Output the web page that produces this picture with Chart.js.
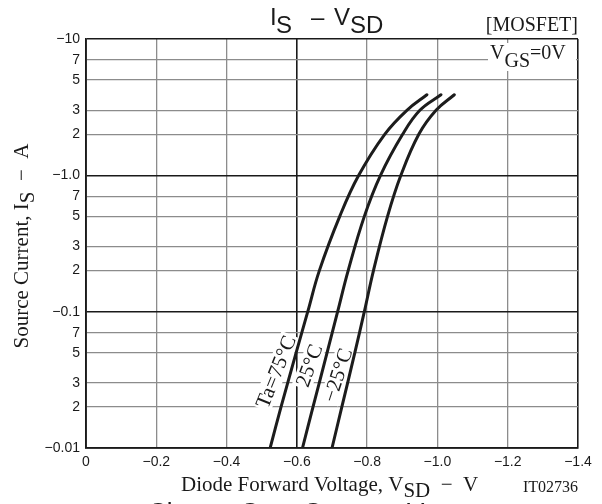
<!DOCTYPE html>
<html>
<head>
<meta charset="utf-8">
<script src="https://cdn.jsdelivr.net/npm/chart.js@4.4.1/dist/chart.umd.min.js"></script>
<style>
  html, body { margin: 0; padding: 0; background: #fff; }
  #wrap { position: relative; width: 602px; height: 504px; }
</style>
</head>
<body>
<div id="wrap"><canvas id="isVsdChart"></canvas></div>
<script>
// Source current magnitude in A (the sheet prints it as -0.01 ... -10)
var currentA = [0.01, 0.02, 0.05, 0.1, 0.2, 0.5, 1, 2, 3, 3.9];

// Diode forward voltage in V for each ambient temperature
var vsdTa75 = [-0.524, -0.555, -0.598, -0.631, -0.664, -0.722, -0.776, -0.850, -0.913, -0.970];
var vsdTa25 = [-0.616, -0.646, -0.686, -0.716, -0.746, -0.792, -0.838, -0.901, -0.950, -1.010];
var vsdTaM25 = [-0.700, -0.728, -0.765, -0.792, -0.818, -0.858, -0.896, -0.947, -0.996, -1.048];

// curve captions and where they sit (data units)
var curveLabels = ["Ta=75°C", "25°C", "−25°C"];
var labelAnchorV = [-0.543, -0.638, -0.719];
var labelAnchorI = [0.036, 0.040, 0.034];
var labelAngle = [-68, -70, -72];

var xTicks = [0, -0.2, -0.4, -0.6, -0.8, -1.0, -1.2, -1.4];
var xTickLabels = ["0", "−0.2", "−0.4", "−0.6", "−0.8", "−1.0", "−1.2", "−1.4"];
var xDarkTicks = [0, -0.6, -1.4];

var yTicks = [0.01, 0.02, 0.03, 0.05, 0.07, 0.1, 0.2, 0.3, 0.5, 0.7, 1, 2, 3, 5, 7, 10];
var yTickLabels = ["−0.01", "2", "3", "5", "7", "−0.1", "2", "3", "5", "7", "−1.0", "2", "3", "5", "7", "−10"];
var yDarkTicks = [0.01, 0.1, 1, 10];

var SANS = "'Liberation Sans', Arial, sans-serif";
var SERIF = "'Liberation Serif', 'Times New Roman', serif";

function toPoints(vs) {
  return vs.map(function (v, i) { return { x: v, y: currentA[i] }; });
}

// draw a run of text pieces, each with its own font and baseline shift
function drawRun(ctx, parts, x, y) {
  var cx = x;
  parts.forEach(function (p) {
    ctx.font = p.font;
    ctx.fillText(p.t, cx, y + (p.dy || 0));
    cx += ctx.measureText(p.t).width;
  });
  return cx;
}

function runWidth(ctx, parts) {
  var w = 0;
  parts.forEach(function (p) {
    ctx.font = p.font;
    w += ctx.measureText(p.t).width;
  });
  return w;
}

var textPlugin = {
  id: "sheetText",
  beforeDatasetsDraw: function (chart) {
    var ctx = chart.ctx;
    var xs = chart.scales.x, ys = chart.scales.y;
    ctx.save();
    ctx.textBaseline = "alphabetic";
    ctx.textAlign = "left";
    // curve captions with white boxes over the grid
    ctx.font = "21px " + SERIF;
    for (var i = 0; i < curveLabels.length; i++) {
      var px = xs.getPixelForValue(labelAnchorV[i]);
      var py = ys.getPixelForValue(labelAnchorI[i]);
      var w = ctx.measureText(curveLabels[i]).width;
      ctx.save();
      ctx.translate(px, py);
      ctx.rotate(labelAngle[i] * Math.PI / 180);
      ctx.fillStyle = "#fff";
      ctx.fillRect(-w / 2 - 2, -11, w + 4, 20);
      ctx.fillStyle = "#1a1a1a";
      ctx.textBaseline = "middle";
      ctx.fillText(curveLabels[i], -w / 2, 0);
      ctx.restore();
    }
    // V_GS box in the top right corner
    var a = chart.chartArea;
    ctx.fillStyle = "#fff";
    ctx.fillRect(a.right - 90, a.top + 4, 88, 28);
    ctx.fillStyle = "#1a1a1a";
    var f20 = "20px " + SERIF;
    drawRun(ctx, [
      { t: "V", font: f20 },
      { t: "GS", font: f20, dy: 8 },
      { t: "=0V", font: f20 }
    ], a.right - 88, a.top + 20);
    ctx.restore();
  },
  afterDraw: function (chart) {
    var ctx = chart.ctx;
    var a = chart.chartArea;
    ctx.save();
    ctx.fillStyle = "#1a1a1a";
    ctx.textBaseline = "alphabetic";
    ctx.textAlign = "left";

    // title I_S – V_SD
    ctx.font = "24px " + SANS;
    ctx.fillText("I", 270, 25);
    ctx.fillText("S", 276, 33);
    ctx.fillText("–", 311, 25);
    ctx.fillText("V", 334, 25);
    ctx.fillText("SD", 350, 33);

    ctx.font = "20px " + SERIF;
    ctx.textAlign = "right";
    ctx.fillText("[MOSFET]", a.right, 31);
    ctx.textAlign = "left";

    // x axis title
    var f21 = "21px " + SERIF;
    var xTitle = [
      { t: "Diode Forward Voltage, V", font: f21 },
      { t: "SD", font: f21, dy: 6 },
      { t: "  −  V", font: f21 }
    ];
    drawRun(ctx, xTitle, 181, 491);

    ctx.font = "16px " + SERIF;
    ctx.textAlign = "right";
    ctx.fillText("IT02736", a.right, 492);
    ctx.textAlign = "left";

    // y axis title, rotated
    var yTitle = [
      { t: "Source Current, I", font: f21 },
      { t: "S", font: f21, dy: 6 },
      { t: "  −  A", font: f21 }
    ];
    var yw = runWidth(ctx, yTitle);
    ctx.save();
    ctx.translate(28, 246);
    ctx.rotate(-Math.PI / 2);
    drawRun(ctx, yTitle, -yw / 2, 0);
    ctx.restore();

    // next chart's title, cut off by the bottom edge
    var cBig = "26px " + SANS;
    drawRun(ctx, [{ t: "Ciss", font: cBig }], 148, 521);
    drawRun(ctx, [{ t: "Coss,", font: cBig }], 240, 521);
    drawRun(ctx, [{ t: "Crss", font: cBig }], 303, 521);
    drawRun(ctx, [{ t: "–  V", font: cBig }], 378, 521);
    ctx.restore();
  }
};

document.addEventListener("DOMContentLoaded", function () {
  var ctx = document.getElementById("isVsdChart").getContext("2d");
  var lineStyle = {
    borderColor: "#1c1c1c",
    borderWidth: 3,
    borderCapStyle: "round",
    pointRadius: 0,
    showLine: true,
    fill: false,
    tension: 0.4
  };
  var isVsdChart = new Chart(ctx, {
    type: "scatter",
    data: {
      datasets: [
        Object.assign({ label: curveLabels[0], data: toPoints(vsdTa75) }, lineStyle),
        Object.assign({ label: curveLabels[1], data: toPoints(vsdTa25) }, lineStyle),
        Object.assign({ label: curveLabels[2], data: toPoints(vsdTaM25) }, lineStyle)
      ]
    },
    options: {
      responsive: true,
      maintainAspectRatio: false,
      animation: false,
      layout: { padding: { left: 0, right: 24, top: 39, bottom: 0 } },
      plugins: {
        legend: { display: false },
        tooltip: { enabled: false },
        title: { display: false }
      },
      scales: {
        x: {
          type: "linear",
          min: -1.4,
          max: 0,
          reverse: true,
          afterBuildTicks: function (scale) {
            scale.ticks = xTicks.map(function (v) { return { value: v }; });
          },
          afterFit: function (scale) { scale.height = 56; },
          ticks: {
            autoSkip: false,
            maxRotation: 0,
            padding: 6,
            color: "#1a1a1a",
            font: { family: SANS, size: 14 },
            callback: function (value, index) { return xTickLabels[index]; }
          },
          grid: {
            drawTicks: false,
            color: function (c) {
              return xDarkTicks.indexOf(xTicks[c.index]) >= 0 ? "#1a1a1a" : "#8c8c8c";
            },
            lineWidth: function (c) {
              return xDarkTicks.indexOf(xTicks[c.index]) >= 0 ? 1.6 : 1.3;
            }
          },
          border: { display: true, color: "#1a1a1a", width: 1.8 }
        },
        y: {
          type: "logarithmic",
          min: 0.01,
          max: 10,
          afterBuildTicks: function (scale) {
            scale.ticks = yTicks.map(function (v) { return { value: v }; });
          },
          afterFit: function (scale) { scale.width = 86; },
          ticks: {
            autoSkip: false,
            padding: 6,
            color: "#1a1a1a",
            font: { family: SANS, size: 14 },
            callback: function (value, index) { return yTickLabels[index]; }
          },
          grid: {
            drawTicks: false,
            color: function (c) {
              return yDarkTicks.indexOf(yTicks[c.index]) >= 0 ? "#1a1a1a" : "#8c8c8c";
            },
            lineWidth: function (c) {
              return yDarkTicks.indexOf(yTicks[c.index]) >= 0 ? 1.6 : 1.3;
            }
          },
          border: { display: true, color: "#1a1a1a", width: 1.8 }
        }
      }
    },
    plugins: [textPlugin]
  });
});
</script>
</body>
</html>
